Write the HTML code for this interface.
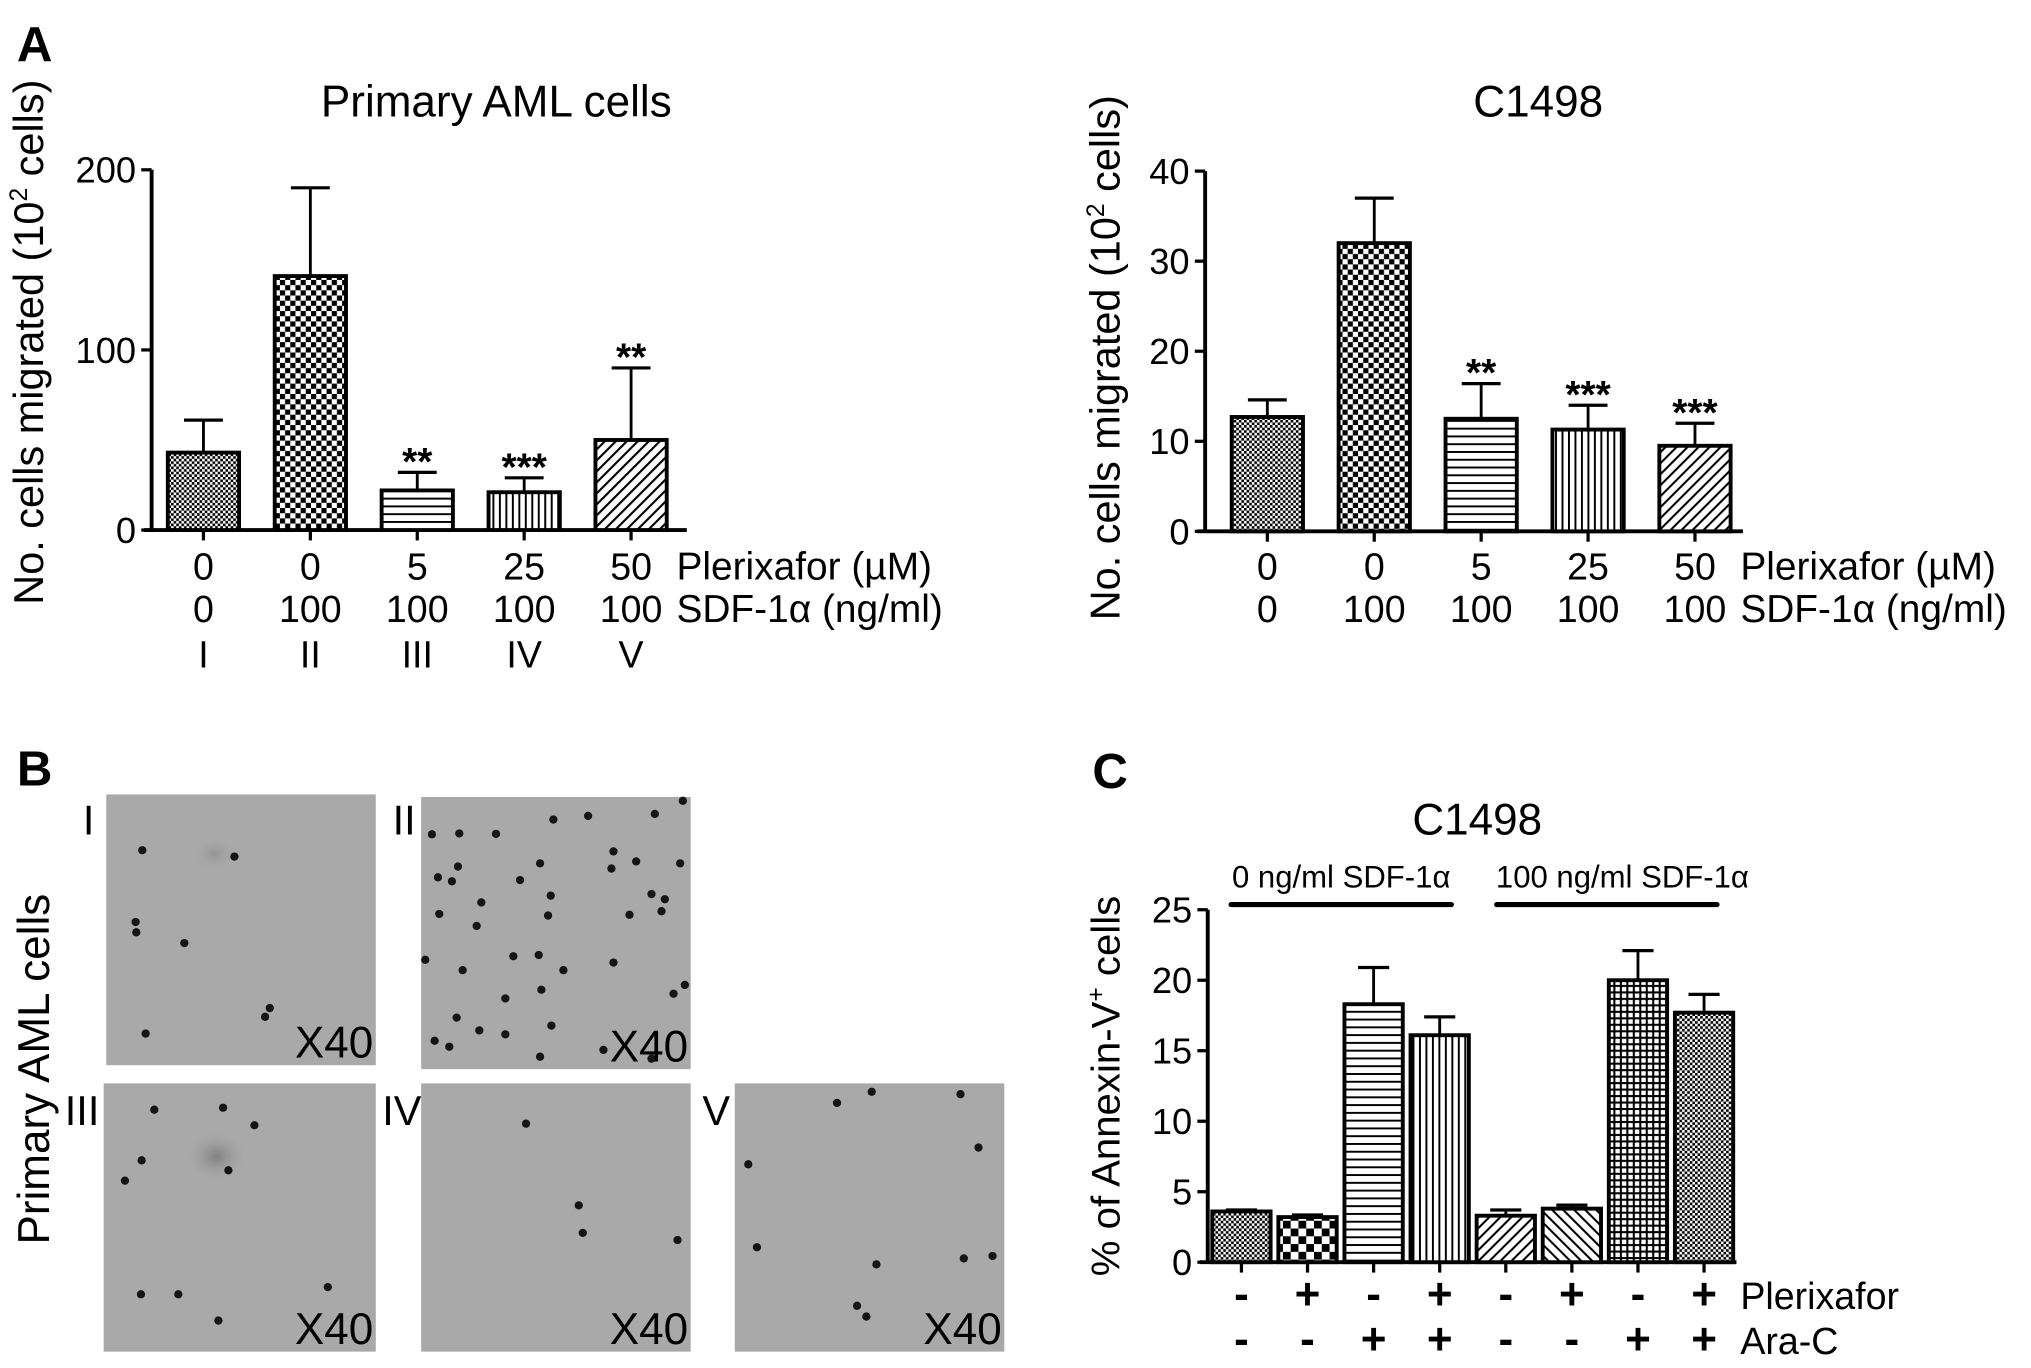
<!DOCTYPE html>
<html><head><meta charset="utf-8"><style>
html,body{margin:0;padding:0;background:#fff;}
svg{display:block;}
text{font-family:"Liberation Sans Narrow","Liberation Sans",sans-serif;fill:#000;}
.w{font-family:"Liberation Sans",sans-serif;}
</style></head><body>
<svg id="fig" width="2031" height="1368" viewBox="0 0 1567.3 1055.6" xmlns="http://www.w3.org/2000/svg">
<defs>
<pattern id="pFine" width="4" height="4" patternUnits="userSpaceOnUse"><rect width="4" height="4" fill="#fff"/><rect width="2" height="2" fill="#000"/><rect x="2" y="2" width="2" height="2" fill="#000"/></pattern>
<pattern id="pCheck" width="8" height="8" patternUnits="userSpaceOnUse"><rect width="8" height="8" fill="#fff"/><rect width="4" height="4" fill="#000"/><rect x="4" y="4" width="4" height="4" fill="#000"/></pattern>
<pattern id="pBig" width="12" height="12" patternUnits="userSpaceOnUse"><rect width="12" height="12" fill="#fff"/><rect width="6" height="6" fill="#000"/><rect x="6" y="6" width="6" height="6" fill="#000"/></pattern>
<pattern id="pH" width="6" height="6" patternUnits="userSpaceOnUse"><rect width="6" height="6" fill="#fff"/><rect width="6" height="1.5" fill="#000"/></pattern>
<pattern id="pV" width="5" height="5" patternUnits="userSpaceOnUse"><rect width="5" height="5" fill="#fff"/><rect width="1.5" height="5" fill="#000"/></pattern>
<pattern id="pD" width="6" height="6" patternUnits="userSpaceOnUse" patternTransform="rotate(45)"><rect width="6" height="6" fill="#fff"/><rect width="1.6" height="6" fill="#000"/></pattern>
<pattern id="pD2" width="6" height="6" patternUnits="userSpaceOnUse" patternTransform="rotate(-45)"><rect width="6" height="6" fill="#fff"/><rect width="1.6" height="6" fill="#000"/></pattern>
<pattern id="pGrid" width="5" height="5" patternUnits="userSpaceOnUse"><rect width="5" height="5" fill="#fff"/><rect width="5" height="1.6" fill="#000"/><rect width="1.6" height="5" fill="#000"/></pattern>
<radialGradient id="blob"><stop offset="0" stop-color="#777" stop-opacity="0.8"/><stop offset="1" stop-color="#999" stop-opacity="0"/></radialGradient>
</defs>

<text class="w" x="13" y="47" font-size="38" font-weight="bold">A</text>
<text class="w" x="13" y="606" font-size="38" font-weight="bold">B</text>
<text class="w" x="843" y="608" font-size="38" font-weight="bold">C</text>

<g id="imgs"></g>
<g id="chartA1"></g>
<g id="chartA2"></g>
<g id="chartC"></g>
</svg>
<script>
// ---- Chart A1 data ----
const a1Categories = ["I","II","III","IV","V"];
const a1Values = [43, 141, 22, 21, 50];
const a1Errors = [61, 190, 32, 29, 90];
const a1Stars = ["", "", "**", "***", "**"];
const a1Ticks = [0, 100, 200];
const a1Plerixafor = ["0","0","5","25","50"];
const a1SDF = ["0","100","100","100","100"];
// ---- Chart A2 data ----
const a2Values = [12.7, 32.0, 12.5, 11.3, 9.5];
const a2Errors = [14.6, 37.0, 16.4, 14.0, 12.0];
const a2Stars = ["", "", "**", "***", "***"];
const a2Ticks = [0, 10, 20, 30, 40];
// ---- Chart C data ----
const cValues = [3.6, 3.2, 18.3, 16.1, 3.3, 3.8, 20.0, 17.7];
const cErrors = [3.7, 3.35, 20.9, 17.4, 3.7, 4.05, 22.1, 19.0];
const cTicks = [0, 5, 10, 15, 20, 25];
const cPlerixafor = ["-","+","-","+","-","+","-","+"];
const cAraC = ["-","-","+","+","-","-","+","+"];

const NS = "http://www.w3.org/2000/svg";
function mk(parent, tag, attrs, txt){
  const e = document.createElementNS(NS, tag);
  for (const k in attrs) e.setAttribute(k, attrs[k]);
  if (txt !== undefined) e.textContent = txt;
  parent.appendChild(e);
  return e;
}

function barChart(g, o){
  const y = v => o.y0 - (v / o.max) * (o.y0 - o.yTop);
  const x = i => o.x0 + o.first + i * o.step;
  let ax = mk(g, "line", {x1:o.x0, y1:o.yTop, x2:o.x0, y2:o.y0, stroke:"#000","stroke-width":3});
  
  
  let bx = mk(g, "line", {x1:o.x0-6, y1:o.y0, x2:o.xEnd, y2:o.y0, stroke:"#000","stroke-width":3});
  
  
  o.ticks.forEach(t => {
    mk(g, "line", {x1:o.x0-8, y1:y(t), x2:o.x0, y2:y(t), stroke:"#000","stroke-width":2.5});
    let tl = mk(g, "text", {x:o.x0-12, y:y(t)+10, "font-size":o.tickFs, "text-anchor":"end"}, t);
    
    
  });
  o.values.forEach((v, i) => {
    const cx = x(i), top = y(v), et = y(o.errors[i]);
    mk(g, "line", {x1:cx, y1:o.y0, x2:cx, y2:o.y0+8, stroke:"#000","stroke-width":2.5});
    mk(g, "line", {x1:cx, y1:top, x2:cx, y2:et, stroke:"#000","stroke-width":2.2});
    mk(g, "line", {x1:cx-o.capW/2, y1:et, x2:cx+o.capW/2, y2:et, stroke:"#000","stroke-width":2.5});
    let b = mk(g, "rect", {x:cx-o.bw/2, y:top, width:o.bw, height:o.y0-top, fill:"url(#"+o.fills[i]+")", stroke:"#000","stroke-width":3});
    
    
    if (o.stars && o.stars[i]) {
      let s = mk(g, "text", {x:cx, y:et+2, "font-size":30, "font-weight":"bold", "text-anchor":"middle", class:"w"}, o.stars[i]);
      
      
    }
    (o.rows || []).forEach(row => {
      let t = mk(g, "text", {x:cx, y:row.y, "font-size":row.fs || o.rowFs, "font-weight":row.bold ? "bold" : "normal", "text-anchor":"middle"}, row.vals[i]);
      
      
    });
  });
  (o.rows || []).forEach(row => {
    if (!row.label) return;
    let t = mk(g, "text", {x:o.labelX, y:row.y, "font-size":o.labelFs || o.rowFs}, row.label);
    
    
  });
  let ti = mk(g, "text", {x:o.titleX, y:o.titleY, "font-size":34, "text-anchor":"middle", class:"w"}, o.title);
  
  
  let yt = mk(g, "text", {x:0, y:0, "font-size":o.ytFs, "text-anchor":"middle", class:"w", transform:"translate("+o.ytX+","+o.ytY+") rotate(-90)"});
  
  
  yt.innerHTML = o.ytHtml;
}

barChart(document.getElementById("chartA1"), {
  x0:117, y0:409, yTop:131, max:200, xEnd:530, first:40, step:82.5, bw:55, capW:30,
  values:a1Values, errors:a1Errors, stars:a1Stars, ticks:a1Ticks, tickFs:28, rowFs:29, labelFs:30,
  fills:["pFine","pCheck","pH","pV","pD"],
  rows:[{name:"plerixafor",y:447,vals:a1Plerixafor,label:"Plerixafor (µM)"},
        {name:"sdf",y:480,vals:a1SDF,label:"SDF-1α (ng/ml)"},
        {name:"group",y:515,vals:a1Categories}],
  labelX:522, title:"Primary AML cells", titleX:383, titleY:90,
  ytX:33, ytY:264, ytFs:32, ytHtml:'No. cells migrated (10<tspan dy="-12" font-size="19">2</tspan><tspan dy="12"> cells)</tspan>'
});
barChart(document.getElementById("chartA2"), {
  x0:930, y0:410, yTop:132, max:40, xEnd:1345, first:48, step:82.5, bw:55, capW:30,
  values:a2Values, errors:a2Errors, stars:a2Stars, ticks:a2Ticks, tickFs:28, rowFs:29, labelFs:30,
  fills:["pFine","pCheck","pH","pV","pD"],
  rows:[{name:"plerixafor",y:447,vals:a1Plerixafor,label:"Plerixafor (µM)"},
        {name:"sdf",y:480,vals:a1SDF,label:"SDF-1α (ng/ml)"}],
  labelX:1343, title:"C1498", titleX:1187, titleY:90,
  ytX:864, ytY:276, ytFs:32, ytHtml:'No. cells migrated (10<tspan dy="-12" font-size="19">2</tspan><tspan dy="12"> cells)</tspan>'
});
barChart(document.getElementById("chartC"), {
  x0:932, y0:974, yTop:702, max:25, xEnd:1340, first:26, step:51, bw:45, capW:24,
  values:cValues, errors:cErrors, ticks:cTicks, tickFs:28, rowFs:34, labelFs:29,
  fills:["pFine","pBig","pH","pV","pD","pD2","pGrid","pFine"],
  rows:[{name:"plerixafor",y:1010,vals:cPlerixafor,label:"Plerixafor",bold:true},
        {name:"arac",y:1045,vals:cAraC,label:"Ara-C",bold:true}],
  labelX:1343, title:"C1498", titleX:1140, titleY:644,
  ytX:864, ytY:838, ytFs:31, ytHtml:'% of Annexin-V<tspan dy="-12" font-size="19">+</tspan><tspan dy="12"> cells</tspan>'
});
(function(){
  const g = document.getElementById("chartC");
  [[950,1120,1035,"0 ng/ml SDF-1α"],[1155,1325,1252,"100 ng/ml SDF-1α"]].forEach(b=>{
    let l = mk(g,"line",{x1:b[0],y1:698,x2:b[1],y2:698,stroke:"#000","stroke-width":4,"stroke-linecap":"round"});
    
    
    let t = mk(g,"text",{x:b[2],y:685,"font-size":24,"text-anchor":"middle"},b[3]);
    
    
  });
})();
// microscopy images (decorative, not data)
(function(){
  const g = document.getElementById("imgs");
  const TX = z => 82 + (z - 158) * 0.515;
  const TY = z => 613 + (z - 132) * 0.3076;
  const panels = [
    {x:82,y:613,w:208,h:209,lab:"I",lx:64,ly:644},
    {x:325,y:615,w:208,h:210,lab:"II",lx:303,ly:644},
    {x:80,y:836,w:210,h:207,lab:"III",lx:50,ly:868},
    {x:325,y:836,w:208,h:207,lab:"IV",lx:295,ly:868},
    {x:567,y:836,w:208,h:207,lab:"V",lx:542,ly:868}
  ];
  const dots = [[212,272],[350,288],[202,452],[203,478],[275,505],[403,668],[396,690],[217,732],
    [1022,148],[828,195],[880,186],[980,181],[646,232],[687,230],[742,231],[918,275],[952,300],[1018,305],[808,305],[915,318],[685,313],[655,340],[676,350],[778,347],[975,382],[995,395],[824,386],[720,403],[657,432],[820,436],[942,434],[990,425],[713,462],[768,538],[806,535],[636,547],[918,554],[692,573],[843,573],[1025,610],[1008,632],[810,622],[756,644],[683,692],[825,712],[717,724],[756,734],[650,750],[672,765],[808,790],[903,773],[975,795],
    [230,923],[333,918],[380,962],[211,1050],[186,1101],[341,1075],[210,1386],[266,1386],[490,1368],[326,1452],
    [787,958],[866,1163],[872,1232],[1014,1250],
    [1253,906],[1305,878],[1438,884],[1465,1018],[1120,1060],[1133,1268],[1312,1311],[1443,1296],[1486,1290],[1297,1442],[1283,1415]];
  panels.forEach(p=>{
    let r = mk(g,"rect",{x:p.x,y:p.y,width:p.w,height:p.h,fill:"#a9a9a9"});
    
    
  });
  mk(g,"ellipse",{cx:TX(323),cy:TY(1040),rx:22,ry:18,fill:"url(#blob)"});
  mk(g,"ellipse",{cx:TX(320),cy:TY(282),rx:16,ry:12,fill:"url(#blob)",opacity:0.5});
  dots.forEach(d=>{
    mk(g,"circle",{cx:TX(d[0]),cy:TY(d[1]),r:3.2,fill:"#151515"});
  });
  panels.forEach(p=>{
    let t = mk(g,"text",{x:p.lx,y:p.ly,"font-size":32},p.lab);
    
    
    let m = mk(g,"text",{x:p.x+p.w-2,y:p.y+p.h-6,"font-size":34,"text-anchor":"end"},"X40");
    
    
  });
  let yt = mk(g,"text",{x:0,y:0,"font-size":34,"text-anchor":"middle",class:"w",transform:"translate(38,825) rotate(-90)"},"Primary AML cells");
  
  
})();
</script>
</body></html>
